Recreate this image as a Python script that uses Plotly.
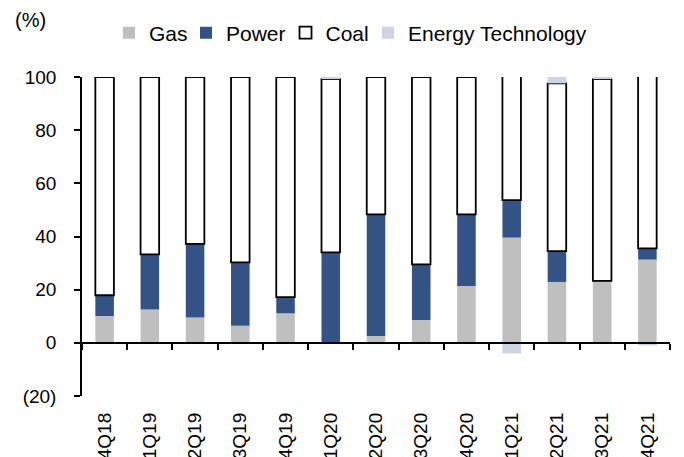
import plotly.graph_objects as go

categories = ["4Q18", "1Q19", "2Q19", "3Q19", "4Q19", "1Q20", "2Q20",
              "3Q20", "4Q20", "1Q21", "2Q21", "3Q21", "4Q21"]
gas = [10.1, 12.5, 9.5, 6.4, 11.1, 0.0, 2.6, 8.6, 21.4, 39.6, 22.9, 23.3, 31.3]
power = [7.8, 20.8, 27.7, 23.9, 6.1, 34.0, 45.7, 20.9, 26.9, 14.1, 11.6, 0.0, 4.2]
coal = [82.1, 66.7, 62.8, 69.7, 82.8, 65.2, 51.7, 70.5, 51.7, 50.3, 63.1, 75.9, 65.5]
energy_tech = [0, 0, 0, 0, 0, 0.8, 0, 0, 0, -4.0, 2.4, 0.8, -1.0]
y_ticks = [-20, 0, 20, 40, 60, 80, 100]
y_tick_text = ["(20)", "0", "20", "40", "60", "80", "100"]

FONT = "Liberation Sans, Arial, sans-serif"

fig = go.Figure()
fig.add_trace(go.Bar(name="Gas", x=categories, y=gas, legend="legend",
                     marker=dict(color="#BFBFBF", line=dict(width=0))))
fig.add_trace(go.Bar(name="Power", x=categories, y=power, legend="legend2",
                     marker=dict(color="#335384", line=dict(width=0))))
fig.add_trace(go.Bar(name="Coal", x=categories, y=coal, legend="legend3",
                     marker=dict(color="#FFFFFF", line=dict(color="#000000", width=1.8))))
fig.add_trace(go.Bar(name="Energy Technology", x=categories, y=energy_tech,
                     legend="legend4",
                     marker=dict(color="#CDD4E2", line=dict(width=0))))
# invisible helper trace for the zero-line category axis
fig.add_trace(go.Scatter(x=categories, y=[None] * len(categories), xaxis="x2",
                         showlegend=False, hoverinfo="skip", mode="markers"))


def leg(x):
    return dict(orientation="h", x=x, xanchor="left", y=1.138, yanchor="middle",
                font=dict(family=FONT, size=21, color="#000000"),
                bgcolor="rgba(0,0,0,0)", itemwidth=30)


fig.update_layout(
    width=676, height=449,
    margin=dict(l=74, r=14, t=69, b=61, autoexpand=False),
    paper_bgcolor="white", plot_bgcolor="white",
    barmode="relative", bargap=0.59,
    font=dict(family=FONT, size=19, color="#000000"),
    showlegend=True,
    legend=leg(0.0459), legend2=leg(0.1769), legend3=leg(0.3461), legend4=leg(0.4864),
    xaxis=dict(type="category", categoryorder="array", categoryarray=categories,
               range=[-0.5, len(categories) - 0.5], showline=False, ticks="",
               showgrid=False, zeroline=False, tickangle=-90,
               ticklabelstandoff=12, automargin=False,
               tickfont=dict(family=FONT, size=19)),
    xaxis2=dict(type="category", categoryorder="array", categoryarray=categories,
                overlaying="x", anchor="free", position=20 / 120,
                range=[-0.5, len(categories) - 0.5],
                showline=True, linecolor="#000000", linewidth=1.5,
                ticks="outside", tickson="boundaries", ticklen=6, tickwidth=1.5,
                tickcolor="#000000", showticklabels=False, showgrid=False,
                zeroline=False),
    yaxis=dict(range=[-20, 100], tickvals=y_ticks, ticktext=y_tick_text,
               showline=True, linecolor="#000000", linewidth=1.5,
               ticks="outside", ticklen=6, tickwidth=1.5, tickcolor="#000000",
               showgrid=False, zeroline=False, ticklabelstandoff=14,
               automargin=False, tickfont=dict(family=FONT, size=19)),
    annotations=[dict(text="(%)", xref="paper", yref="paper",
                      x=-0.117, y=1.18, xanchor="left", yanchor="middle",
                      showarrow=False, font=dict(family=FONT, size=20))],
)

fig.write_html("out.html")
